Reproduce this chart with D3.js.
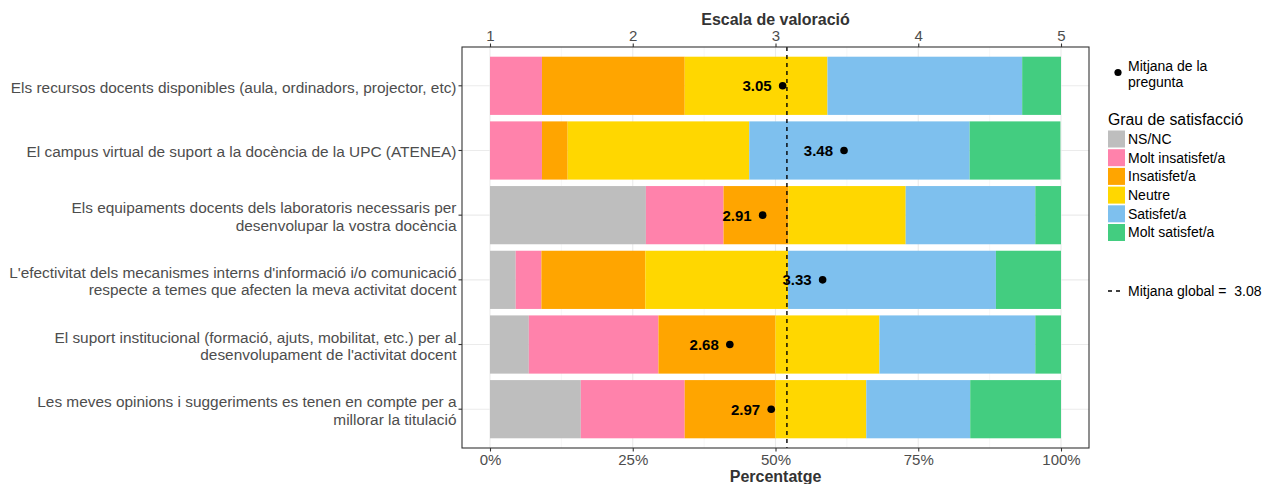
<!DOCTYPE html>
<html>
<head>
<meta charset="utf-8">
<script src="https://cdn.jsdelivr.net/npm/d3@7"></script>
<style>
  body { margin: 0; background: #fff; }
  svg { display: block; font-family: "Liberation Sans", Arial, sans-serif; }
</style>
</head>
<body>
<svg id="chart" width="1264" height="484"></svg>
<script>
const questions = [
  ['Els recursos docents disponibles (aula, ordinadors, projector, etc)'],
  ['El campus virtual de suport a la docència de la UPC (ATENEA)'],
  ['Els equipaments docents dels laboratoris necessaris per', 'desenvolupar la vostra docència'],
  ["L'efectivitat dels mecanismes interns d'informació i/o comunicació", 'respecte a temes que afecten la meva activitat docent'],
  ['El suport institucional (formació, ajuts, mobilitat, etc.) per al', "desenvolupament de l'activitat docent"],
  ['Les meves opinions i suggeriments es tenen en compte per a', 'millorar la titulació']
];
const levels = ['NS/NC', 'Molt insatisfet/a', 'Insatisfet/a', 'Neutre', 'Satisfet/a', 'Molt satisfet/a'];
const levelColors = ['#BEBEBE', '#FF82AB', '#FFA500', '#FFD700', '#7EC0EE', '#43CD80'];

// percentages per question (top to bottom)
const nsnc       = [0, 0, 27.3, 4.5, 6.8, 15.9];
const moltInsat  = [9.1, 9.1, 13.6, 4.5, 22.7, 18.2];
const insat      = [25.0, 4.5, 11.4, 18.2, 20.5, 15.9];
const neutre     = [25.0, 31.8, 20.5, 25.0, 18.2, 15.9];
const satisf     = [34.1, 38.6, 22.7, 36.4, 27.3, 18.2];
const moltSatisf = [6.8, 15.9, 4.5, 11.4, 4.5, 15.9];

const means = [3.05, 3.48, 2.91, 3.33, 2.68, 2.97];
const globalMean = 3.08;

const pctTicks = [0, 25, 50, 75, 100];
const scoreTicks = [1, 2, 3, 4, 5];

const svg = d3.select('#chart');
const panel = { left: 462, right: 1089, top: 47, bottom: 448 };
const x0 = 490, x1 = 1061;

const x = d3.scaleLinear().domain([0, 100]).range([x0, x1]);
const xs = d3.scaleLinear().domain([1, 5]).range([x0, x1]);
const y = d3.scaleBand().domain(d3.range(questions.length))
  .range([panel.top, panel.bottom]).paddingInner(0.1).paddingOuter(0.15);

const rows = questions.map((q, i) => ({
  i,
  'NS/NC': nsnc[i],
  'Molt insatisfet/a': moltInsat[i],
  'Insatisfet/a': insat[i],
  'Neutre': neutre[i],
  'Satisfet/a': satisf[i],
  'Molt satisfet/a': moltSatisf[i]
}));
const stacked = d3.stack().keys(levels)(rows);
const color = d3.scaleOrdinal().domain(levels).range(levelColors);

// grid
const grid = svg.append('g');
d3.range(12.5, 100, 25).forEach(v => {
  grid.append('line').attr('x1', x(v)).attr('x2', x(v))
    .attr('y1', panel.top).attr('y2', panel.bottom)
    .attr('stroke', '#F2F2F2').attr('stroke-width', 0.6);
});
pctTicks.forEach(v => {
  grid.append('line').attr('x1', x(v)).attr('x2', x(v))
    .attr('y1', panel.top).attr('y2', panel.bottom)
    .attr('stroke', '#EBEBEB').attr('stroke-width', 1.1);
});
questions.forEach((q, i) => {
  const cy = y(i) + y.bandwidth() / 2;
  grid.append('line').attr('x1', panel.left).attr('x2', panel.right)
    .attr('y1', cy).attr('y2', cy)
    .attr('stroke', '#EBEBEB').attr('stroke-width', 1.1);
});

// bars
svg.append('g').selectAll('g')
  .data(stacked)
  .join('g')
  .attr('fill', d => color(d.key))
  .selectAll('rect')
  .data(d => d)
  .join('rect')
  .attr('x', d => x(d[0]))
  .attr('width', d => x(d[1]) - x(d[0]))
  .attr('y', d => y(d.data.i))
  .attr('height', y.bandwidth());

// global mean line
svg.append('line')
  .attr('x1', xs(globalMean)).attr('x2', xs(globalMean))
  .attr('y1', panel.top).attr('y2', panel.bottom)
  .attr('stroke', '#000').attr('stroke-width', 1.4)
  .attr('stroke-dasharray', '4,4');

// question means
const meanG = svg.append('g');
means.forEach((m, i) => {
  const cy = y(i) + y.bandwidth() / 2;
  meanG.append('circle').attr('cx', xs(m)).attr('cy', cy).attr('r', 3.8).attr('fill', '#000');
  meanG.append('text').attr('x', xs(m) - 11).attr('y', cy)
    .attr('dy', '0.36em').attr('text-anchor', 'end')
    .style('font-family', '"Liberation Sans Narrow", "Liberation Sans", Arial, sans-serif')
    .style('font-weight', 'bold').style('font-size', '15px')
    .attr('fill', '#000').text(m.toFixed(2));
});

// panel border
svg.append('rect')
  .attr('x', panel.left).attr('y', panel.top)
  .attr('width', panel.right - panel.left).attr('height', panel.bottom - panel.top)
  .attr('fill', 'none').attr('stroke', '#333').attr('stroke-width', 1.1);

// axes
const styleAxis = g => {
  g.select('.domain').remove();
  g.selectAll('.tick line').attr('stroke', '#333').attr('stroke-width', 1.1);
  g.selectAll('.tick text').attr('fill', '#4D4D4D').style('font-size', '15px');
};

svg.append('g').attr('transform', `translate(0,${panel.bottom})`)
  .call(d3.axisBottom(x).tickValues(pctTicks).tickFormat(d => d + '%').tickSize(3.5).tickPadding(3))
  .call(styleAxis);

svg.append('g').attr('transform', `translate(0,${panel.top})`)
  .call(d3.axisTop(xs).tickValues(scoreTicks).tickFormat(d3.format('d')).tickSize(3.5).tickPadding(3))
  .call(styleAxis);

const yAxis = svg.append('g').attr('transform', `translate(${panel.left},0)`)
  .call(d3.axisLeft(y).tickSize(3.5).tickPadding(4).tickFormat(''))
  .call(styleAxis);
yAxis.selectAll('.tick text').style('font-size', '15.4px').each(function (i) {
  const lines = questions[i];
  const t = d3.select(this).text(null).attr('dy', null);
  const lh = 17.4;
  const start = -(lines.length - 1) * lh / 2 + 2;
  lines.forEach((ln, k) => {
    t.append('tspan').attr('x', -5.5).attr('y', start + k * lh).attr('dy', '0.32em').text(ln);
  });
});

// axis titles
svg.append('text').attr('x', (panel.left + panel.right) / 2).attr('y', 19)
  .attr('dy', '0.35em').attr('text-anchor', 'middle')
  .style('font-weight', 'bold').style('font-size', '16px').attr('fill', '#333')
  .text('Escala de valoració');
svg.append('text').attr('x', (panel.left + panel.right) / 2).attr('y', 476)
  .attr('dy', '0.35em').attr('text-anchor', 'middle')
  .style('font-weight', 'bold').style('font-size', '16px').attr('fill', '#333')
  .text('Percentatge');

// legends
const lg = svg.append('g');
lg.append('circle').attr('cx', 1118).attr('cy', 72.5).attr('r', 3.6).attr('fill', '#000');
lg.append('text').attr('x', 1128).attr('y', 66.5).attr('dy', '0.35em')
  .style('font-size', '14px').attr('fill', '#000').text('Mitjana de la');
lg.append('text').attr('x', 1128).attr('y', 82.5).attr('dy', '0.35em')
  .style('font-size', '14px').attr('fill', '#000').text('pregunta');

lg.append('text').attr('x', 1108).attr('y', 119).attr('dy', '0.35em')
  .style('font-size', '15.8px').attr('fill', '#000').text('Grau de satisfacció');
levels.forEach((lv, k) => {
  const cy = 139 + k * 18.7;
  lg.append('rect').attr('x', 1108).attr('y', cy - 8.5).attr('width', 17).attr('height', 17)
    .attr('fill', color(lv));
  lg.append('text').attr('x', 1128).attr('y', cy).attr('dy', '0.35em')
    .style('font-size', '14px').attr('fill', '#000').text(lv);
});

lg.append('line').attr('x1', 1108).attr('x2', 1124).attr('y1', 291).attr('y2', 291)
  .attr('stroke', '#000').attr('stroke-width', 1.3).attr('stroke-dasharray', '4,4');
lg.append('text').attr('x', 1128).attr('y', 291).attr('dy', '0.35em')
  .style('font-size', '14px').attr('fill', '#000').attr('xml:space', 'preserve')
  .text('Mitjana global =  ' + globalMean.toFixed(2));
</script>
</body>
</html>
